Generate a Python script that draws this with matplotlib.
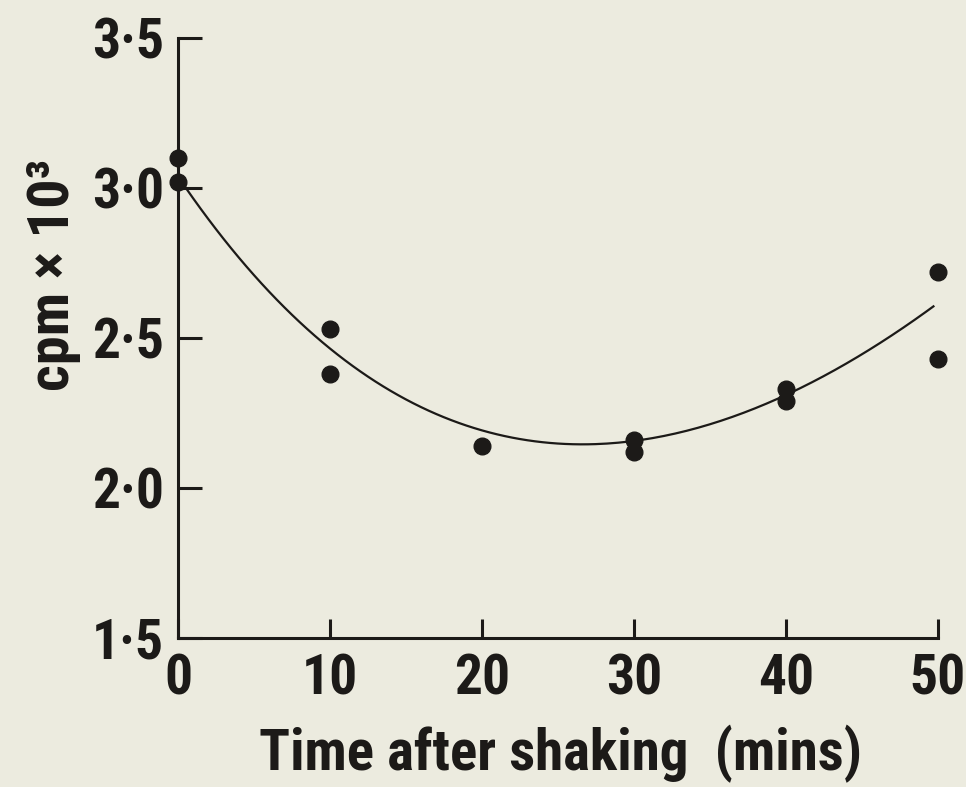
import numpy as np
import matplotlib
matplotlib.use("Agg")
import matplotlib.pyplot as plt
from matplotlib.ticker import FixedLocator, FuncFormatter

# measured points (two replicates per time, one at 20 min)
time_pts = [0, 0, 10, 10, 20, 30, 30, 40, 40, 50, 50]
cpm_pts = [3.10, 3.02, 2.53, 2.38, 2.14, 2.16, 2.12, 2.33, 2.29, 2.72, 2.43]

# fitted curve as drawn, read every 5 min
curve_t = [0, 5, 10, 15, 20, 25, 30, 35, 40, 45, 50]
curve_y = [3.03, 2.73, 2.46, 2.28, 2.19, 2.157, 2.163, 2.21, 2.31, 2.44, 2.62]

xticks = [0, 10, 20, 30, 40, 50]
yticks = [1.5, 2.0, 2.5, 3.0, 3.5]

bg = "#ecebdf"
ink = "#1c1a18"
plt.rcParams["font.family"] = ["Roboto Condensed", "DejaVu Sans"]
plt.rcParams["font.weight"] = "bold"

fig = plt.figure(figsize=(9.66, 7.87), dpi=100, facecolor=bg)
ax = fig.add_axes([178 / 966, 1 - 638 / 787, 760 / 966, 600 / 787])
ax.set_facecolor(bg)

# smooth line through the curve readings
coef = np.polyfit(curve_t, curve_y, 4)
tt = np.linspace(0, 49.7, 200)
ax.plot(tt, np.polyval(coef, tt), color=ink, lw=1.6, clip_on=False)
ax.plot(time_pts, cpm_pts, "o", color=ink, ms=12, clip_on=False, zorder=3)

ax.set_xlim(0, 50)
ax.set_ylim(1.5, 3.5)
ax.spines["top"].set_visible(False)
ax.spines["right"].set_visible(False)
for s in ("left", "bottom"):
    ax.spines[s].set_linewidth(2.2)
    ax.spines[s].set_color(ink)

ax.xaxis.set_major_locator(FixedLocator(xticks))
ax.yaxis.set_major_locator(FixedLocator(yticks))
ax.yaxis.set_major_formatter(FuncFormatter(lambda v, p: f"{v:.1f}".replace(".", "\u00b7")))
ax.tick_params(axis="x", direction="in", length=14, width=2.2, color=ink,
               labelsize=40, pad=11, labelcolor=ink)
ax.tick_params(axis="y", direction="in", length=17, width=2.2, color=ink,
               labelsize=40, pad=10, labelcolor=ink)
for lab in ax.get_xticklabels() + ax.get_yticklabels():
    lab.set_fontweight("bold")

ax.set_xlabel("Time after shaking  (mins)", fontsize=41, fontweight="bold", color=ink)
ax.xaxis.set_label_coords(0.503, -0.145)
ax.set_ylabel("cpm \u00d7 10\u00b3", fontsize=42, fontweight="bold", color=ink)
ax.yaxis.set_label_coords(-0.128, 0.605)

fig.savefig("out.png", dpi=100, facecolor=bg)
